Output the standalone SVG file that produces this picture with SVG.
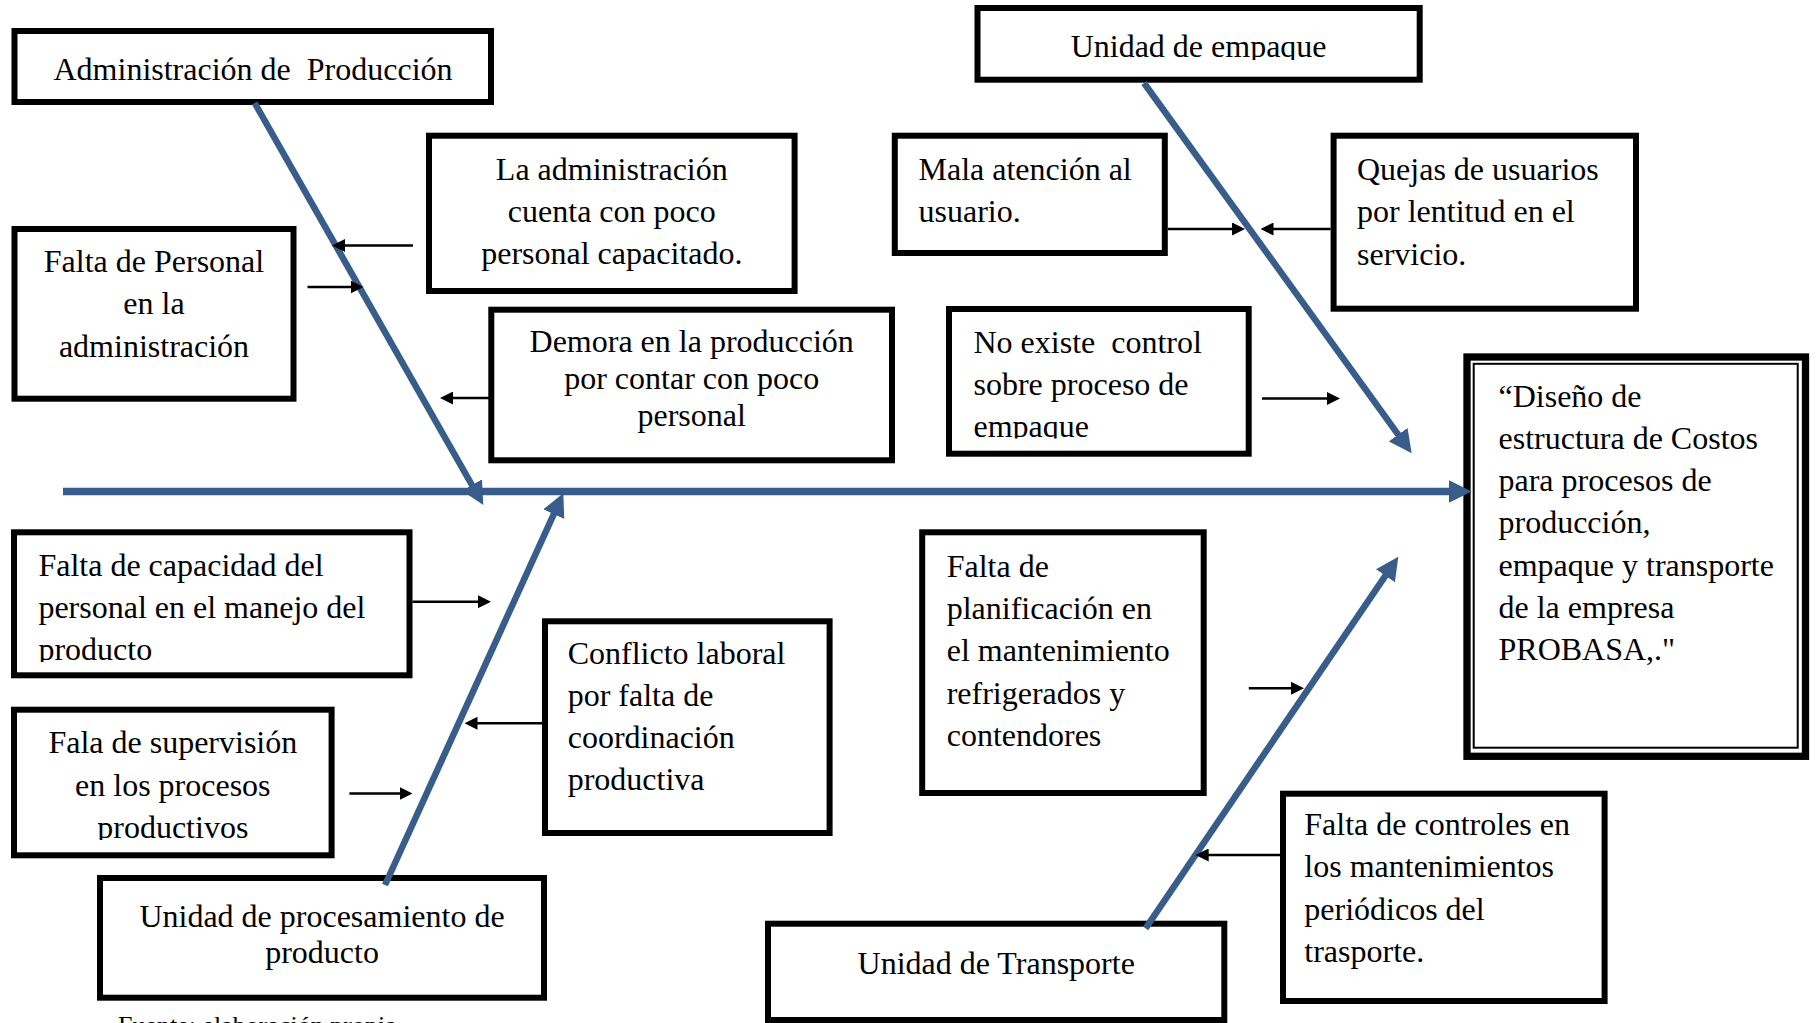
<svg xmlns="http://www.w3.org/2000/svg" width="1817" height="1023" viewBox="0 0 1817 1023">
<style>
.box{fill:#fff;stroke:#000;stroke-width:6}
.t{font-family:"Liberation Serif","Times New Roman",serif;font-size:32px;fill:#000}
.c{text-anchor:middle}
.blue{stroke:#385D8A;stroke-width:6.5;fill:none}
.main{stroke:#385D8A;stroke-width:7.5;fill:none}
.blk{stroke:#000;stroke-width:2.5;fill:none}
</style>
<defs>
<marker id="ab" viewBox="0 0 23 23" refX="8" refY="11.5" markerWidth="23" markerHeight="23" markerUnits="userSpaceOnUse" orient="auto">
<path d="M0,0 L23,11.5 L0,23 z" fill="#385D8A"/>
</marker>
<marker id="ak" viewBox="0 0 13 13" refX="7" refY="6.5" markerWidth="13" markerHeight="13" markerUnits="userSpaceOnUse" orient="auto">
<path d="M0,0 L13,6.5 L0,13 z" fill="#000"/>
</marker>
<clipPath id="clipEmp"><rect x="970" y="0" width="460" height="60"/></clipPath>
<clipPath id="clipNo"><rect x="940" y="300" width="320" height="138.5"/></clipPath>
<clipPath id="clipCap"><rect x="0" y="520" width="420" height="142"/></clipPath>
<clipPath id="clipSup"><rect x="0" y="700" width="340" height="140"/></clipPath>
</defs>

<g id="node-admin-produccion">
<rect class="box" x="14.5" y="31" width="476.5" height="71"/>
<text class="t c" x="253" y="80" xml:space="preserve">Administración de  Producción</text>
</g>
<g id="node-la-administracion">
<rect class="box" x="429" y="135.7" width="365.6" height="155.3"/>
<text class="t c" x="611.8" y="180">La administración</text>
<text class="t c" x="611.8" y="222">cuenta con poco</text>
<text class="t c" x="611.8" y="263.5">personal capacitado.</text>
</g>
<g id="node-falta-personal">
<rect class="box" x="14.5" y="229" width="279" height="169.7"/>
<text class="t c" x="154" y="271.7">Falta de Personal</text>
<text class="t c" x="154" y="314.3">en la</text>
<text class="t c" x="154" y="356.7">administración</text>
</g>
<g id="node-demora">
<rect class="box" x="491.3" y="309.7" width="400.7" height="150.6"/>
<text class="t c" x="691.7" y="351.5">Demora en la producción</text>
<text class="t c" x="691.7" y="388.5">por contar con poco</text>
<text class="t c" x="691.7" y="425.5">personal</text>
</g>
<g id="node-unidad-empaque">
<rect class="box" x="977.5" y="8" width="442.2" height="71.7"/>
<text class="t c" x="1198.6" y="56.7" clip-path="url(#clipEmp)">Unidad de empaque</text>
</g>
<g id="node-mala-atencion">
<rect class="box" x="894.8" y="135.7" width="270" height="117.3"/>
<text class="t" x="918.5" y="180">Mala atención al</text>
<text class="t" x="918.5" y="221.7">usuario.</text>
</g>
<g id="node-quejas">
<rect class="box" x="1333.6" y="135.7" width="302.4" height="173"/>
<text class="t" x="1357" y="180">Quejas de usuarios</text>
<text class="t" x="1357" y="222">por lentitud en el</text>
<text class="t" x="1357" y="264.5">servicio.</text>
</g>
<g id="node-no-existe">
<rect class="box" x="949" y="309" width="299.7" height="144.7"/>
<g clip-path="url(#clipNo)">
<text class="t" x="973.5" y="353" xml:space="preserve">No existe  control</text>
<text class="t" x="973.5" y="395">sobre proceso de</text>
<text class="t" x="973.5" y="437">empaque</text>
</g>
</g>
<g id="node-efecto">
<rect x="1467" y="357" width="338.5" height="399.3" fill="#fff" stroke="#000" stroke-width="7.3"/>
<rect x="1473.7" y="363.8" width="324" height="383.9" fill="none" stroke="#000" stroke-width="2"/>
<text class="t" x="1498.5" y="406.5">“Diseño de</text>
<text class="t" x="1498.5" y="448.8">estructura de Costos</text>
<text class="t" x="1498.5" y="491.1">para procesos de</text>
<text class="t" x="1498.5" y="533.4">producción,</text>
<text class="t" x="1498.5" y="575.7">empaque y transporte</text>
<text class="t" x="1498.5" y="618">de la empresa</text>
<text class="t" x="1498.5" y="660.3">PROBASA,."</text>
</g>
<g id="node-falta-capacidad">
<rect class="box" x="14" y="532.3" width="395.5" height="143"/>
<g clip-path="url(#clipCap)">
<text class="t" x="38.4" y="576">Falta de capacidad del</text>
<text class="t" x="38.4" y="618.3">personal en el manejo del</text>
<text class="t" x="38.4" y="660">producto</text>
</g>
</g>
<g id="node-supervision">
<rect class="box" x="14" y="709.7" width="317.6" height="145.6"/>
<g clip-path="url(#clipSup)">
<text class="t c" x="172.8" y="753.3">Fala de supervisión</text>
<text class="t c" x="172.8" y="795.7">en los procesos</text>
<text class="t c" x="172.8" y="837.7">productivos</text>
</g>
</g>
<g id="node-procesamiento">
<rect class="box" x="100" y="878" width="444" height="119.7"/>
<text class="t c" x="322" y="926.7">Unidad de procesamiento de</text>
<text class="t c" x="322" y="963.3">producto</text>
</g>
<g id="node-conflicto">
<rect class="box" x="545" y="621.3" width="284.6" height="211.7"/>
<text class="t" x="567.7" y="663.5">Conflicto laboral</text>
<text class="t" x="567.7" y="705.5">por falta de</text>
<text class="t" x="567.7" y="747.5">coordinación</text>
<text class="t" x="567.7" y="789.5">productiva</text>
</g>
<g id="node-planificacion">
<rect class="box" x="922.2" y="532.3" width="281.5" height="260.7"/>
<text class="t" x="946.7" y="576.7">Falta de</text>
<text class="t" x="946.7" y="619">planificación en</text>
<text class="t" x="946.7" y="661.3">el mantenimiento</text>
<text class="t" x="946.7" y="703.6">refrigerados y</text>
<text class="t" x="946.7" y="745.9">contendores</text>
</g>
<g id="node-controles">
<rect class="box" x="1283" y="793.7" width="321.6" height="207.3"/>
<text class="t" x="1304.3" y="835">Falta de controles en</text>
<text class="t" x="1304.3" y="877.3">los mantenimientos</text>
<text class="t" x="1304.3" y="919.5">periódicos del</text>
<text class="t" x="1304.3" y="961.7">trasporte.</text>
</g>
<g id="node-transporte">
<rect class="box" x="768" y="923.7" width="456.3" height="96.3"/>
<text class="t c" x="996.2" y="973.5">Unidad de Transporte</text>
</g>
<g id="footer">
<text x="118" y="1034" style="font-family:'Liberation Serif','Times New Roman',serif;font-size:26px;fill:#000">Fuente: elaboración propia</text>
</g>

<g id="connectors">
<line class="main" x1="63" y1="491.5" x2="1456.7" y2="491.5" marker-end="url(#ab)"/>
<line class="blue" x1="254.7" y1="103" x2="475.9" y2="492" marker-end="url(#ab)"/>
<line class="blue" x1="385" y1="885" x2="557.1" y2="506.9" marker-end="url(#ab)"/>
<line class="blue" x1="1144" y1="83" x2="1402.9" y2="441.1" marker-end="url(#ab)"/>
<line class="blue" x1="1145.6" y1="928.3" x2="1389.9" y2="569.1" marker-end="url(#ab)"/>
<line class="blk" x1="413" y1="245.5" x2="338" y2="245.5" marker-end="url(#ak)"/>
<line class="blk" x1="307.5" y1="287" x2="357.5" y2="287" marker-end="url(#ak)"/>
<line class="blk" x1="489" y1="398" x2="446" y2="398" marker-end="url(#ak)"/>
<line class="blk" x1="1168" y1="229" x2="1239" y2="229" marker-end="url(#ak)"/>
<line class="blk" x1="1330.6" y1="229" x2="1266.5" y2="229" marker-end="url(#ak)"/>
<line class="blk" x1="1262" y1="398.5" x2="1334" y2="398.5" marker-end="url(#ak)"/>
<line class="blk" x1="412.5" y1="601.7" x2="485" y2="601.7" marker-end="url(#ak)"/>
<line class="blk" x1="542" y1="723.3" x2="470.5" y2="723.3" marker-end="url(#ak)"/>
<line class="blk" x1="349.4" y1="793.5" x2="406.5" y2="793.5" marker-end="url(#ak)"/>
<line class="blk" x1="1248.8" y1="688.3" x2="1298" y2="688.3" marker-end="url(#ak)"/>
<line class="blk" x1="1280" y1="855" x2="1201.7" y2="855" marker-end="url(#ak)"/>
</g>
</svg>
